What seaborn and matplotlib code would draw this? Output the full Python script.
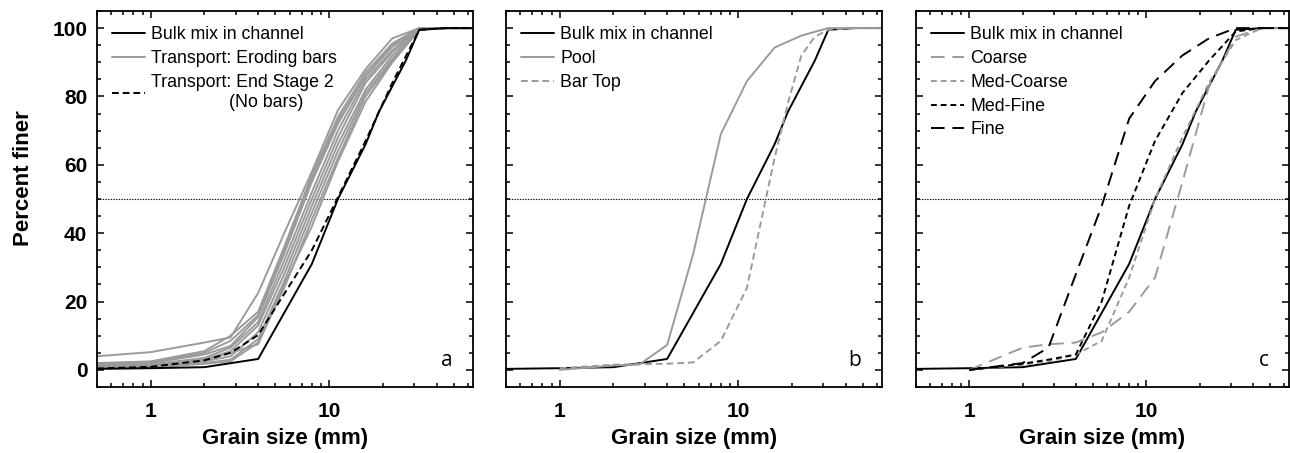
import matplotlib
matplotlib.use("Agg")
import matplotlib.pyplot as plt
from matplotlib.ticker import FixedLocator, LogLocator, NullFormatter, MultipleLocator, FixedFormatter
import seaborn as sns
import pandas as pd

# ---------------- data ----------------
sizes = [0.5, 1, 2, 2.8, 4, 5.6, 8, 11.2, 16, 22.6, 32, 45, 64]

bulk_x = [0.5, 1, 2, 4, 8, 11.2, 16, 19, 22.6, 26.9, 32, 45, 64]
bulk_y = [0.3, 0.5, 0.8, 3.2, 31, 50, 66, 75.5, 83, 90.5, 99.5, 100, 100]

# panel a: transport while eroding bars (10 samples)
eroding = [
    [4.0, 5.2, 8.0, 9.5, 22.5, 40, 58, 76, 88, 97, 100, 100, 100],
    [2.0, 2.5, 5.5, 10.0, 17, 36, 57, 74, 87, 95.5, 100, 100, 100],
    [1.5, 2.0, 4.5, 7.0, 15.5, 34, 55, 72, 86, 94.5, 100, 100, 100],
    [1.2, 1.6, 3.5, 6.5, 14, 32, 52, 70, 85, 93.5, 100, 100, 100],
    [1.0, 1.3, 3.0, 5.5, 13, 30, 50, 68, 84, 93, 100, 100, 100],
    [0.8, 1.0, 2.5, 4.0, 11, 28, 48, 66, 82, 92, 99.8, 100, 100],
    [0.6, 0.8, 2.0, 3.0, 9, 26, 46, 64, 81, 91, 99.8, 100, 100],
    [0.5, 0.7, 1.8, 2.5, 8, 24, 44, 62, 80, 90.5, 99.5, 100, 100],
    [1.8, 2.2, 5.0, 8.5, 16, 35, 56, 73, 86, 95, 100, 100, 100],
    [0.8, 1.2, 3.0, 5.0, 7.5, 25, 42, 61, 78.5, 90, 99.5, 100, 100],
]
end2_x = [0.5, 1, 2, 2.8, 4, 8, 11.2, 16, 22.6, 32, 45, 64]
end2_y = [0.4, 0.9, 2.8, 5.0, 10.2, 35, 50.5, 67, 84, 99.5, 100, 100]

# panel b
pool_x = [1, 2, 2.8, 4, 5.6, 8, 11.2, 16, 22.6, 32, 45, 64]
pool_y = [0.0, 1.3, 1.6, 7.3, 34, 69, 84.5, 94.3, 97.8, 100, 100, 100]
bartop_x = [1, 2, 2.8, 4, 5.6, 8, 11.2, 13.5, 16, 19, 22.6, 26.9, 32, 45, 64]
bartop_y = [0.5, 1.5, 1.7, 1.8, 2.2, 8.5, 24, 44, 62, 78, 92, 97.5, 99.5, 100, 100]

# panel c
c_x = [1, 2, 2.8, 4, 5.6, 8, 11.2, 16, 22.6, 32, 45, 64]
coarse_y = [0.0, 6.5, 7.5, 8.0, 11, 17, 27, 55, 83, 97.5, 100, 100]
medcoarse_y = [0.0, 1.5, 2.5, 4.5, 8.5, 27, 50, 68, 84, 96.5, 100, 100]
medfine_y = [0.0, 1.8, 3.0, 4.5, 20, 48, 67, 81, 90.5, 99, 100, 100]
fine_y = [0.0, 2.0, 6.5, 28, 48, 73.5, 84.5, 92, 97, 100, 100, 100]

yticks = [0, 20, 40, 60, 80, 100]
xticks = [1, 10]
xtick_labels = ["1", "10"]
panel_letters = ["a", "b", "c"]

# ---------------- style ----------------
sns.set_theme(style="ticks")
plt.rcParams["font.family"] = ["Liberation Sans", "DejaVu Sans"]
for k in ["text.color", "axes.labelcolor", "xtick.color", "ytick.color", "axes.edgecolor"]:
    plt.rcParams[k] = "black"

GRAY = "#9b9b9b"
W, H = 1290, 453
fig = plt.figure(figsize=(W / 100, H / 100), dpi=100)

def frac_axes(left, right, top, bottom):
    return [left / W, 1 - bottom / H, (right - left) / W, (bottom - top) / H]

axes = [
    fig.add_axes(frac_axes(97, 473, 11, 387)),
    fig.add_axes(frac_axes(506, 882, 11, 387)),
    fig.add_axes(frac_axes(916, 1289, 11, 387)),
]

def line(ax, x, y, color, ls="-", lw=1.4, label="_nolegend_"):
    df = pd.DataFrame({"x": x, "y": y})
    sns.lineplot(data=df, x="x", y="y", ax=ax, color=color, linestyle=ls,
                 linewidth=lw, label=label, sort=False, estimator=None)
    return ax.lines[-1]

LEG = dict(loc="upper left", bbox_to_anchor=(0.0, 1.0), frameon=False,
           fontsize=12.8, handlelength=1.85, handletextpad=0.33, labelspacing=0.38,
           borderpad=0.45, borderaxespad=0.42, labelcolor="black")

# panel a
ax = axes[0]
gray_handles = []
for e in eroding:
    gray_handles.append(line(ax, sizes, e, GRAY, "-", 1.4))
h_end = line(ax, end2_x, end2_y, "black", (0, (3.5, 2)), 1.4)
h_bulk = line(ax, bulk_x, bulk_y, "black", "-", 1.4)
ax.legend([h_bulk, gray_handles[0], h_end],
          ["Bulk mix in channel", "Transport: Eroding bars",
           "Transport: End Stage 2\n                (No bars)"], **LEG)

# panel b
ax = axes[1]
hb = line(ax, bulk_x, bulk_y, "black", "-", 1.4)
hp = line(ax, pool_x, pool_y, GRAY, "-", 1.4)
ht = line(ax, bartop_x, bartop_y, GRAY, (0, (3.5, 2)), 1.4)
ax.legend([hb, hp, ht], ["Bulk mix in channel", "Pool", "Bar Top"], **LEG)

# panel c
ax = axes[2]
hb = line(ax, bulk_x, bulk_y, "black", "-", 1.4)
hc = line(ax, c_x, coarse_y, GRAY, (0, (7, 4)), 1.4)
hmc = line(ax, c_x, medcoarse_y, GRAY, (0, (3, 2)), 1.4)
hmf = line(ax, c_x, medfine_y, "black", (0, (3, 2)), 1.4)
hf = line(ax, c_x, fine_y, "black", (0, (7, 4)), 1.4)
ax.legend([hb, hc, hmc, hmf, hf],
          ["Bulk mix in channel", "Coarse", "Med-Coarse", "Med-Fine", "Fine"], **LEG)

for i, ax in enumerate(axes):
    ax.axhline(50, color="black", linestyle=(0, (1.2, 1.2)), linewidth=0.8, zorder=0)
    ax.set_xscale("log")
    ax.set_xlim(0.5, 64)
    ax.set_ylim(-5, 105)
    ax.xaxis.set_major_locator(FixedLocator(xticks))
    ax.xaxis.set_major_formatter(FixedFormatter(xtick_labels))
    ax.xaxis.set_minor_locator(LogLocator(base=10, subs=range(2, 10)))
    ax.xaxis.set_minor_formatter(NullFormatter())
    ax.yaxis.set_major_locator(FixedLocator(yticks))
    ax.yaxis.set_minor_locator(MultipleLocator(5))
    ax.tick_params(which="both", direction="in", top=True, right=True, color="black",
                   labelcolor="black", width=1.1)
    ax.tick_params(which="major", length=5, labelsize=15)
    ax.tick_params(which="minor", length=3)
    ax.tick_params(axis="x", which="major", pad=11)
    ax.tick_params(axis="y", which="major", pad=7)
    for lab in ax.get_xticklabels() + ax.get_yticklabels():
        lab.set_fontweight("bold")
    for s in ax.spines.values():
        s.set_linewidth(1.3)
        s.set_color("black")
        s.set_visible(True)
    ax.set_xlabel("Grain size (mm)", fontsize=16, fontweight="bold", labelpad=5, color="black")
    if i == 0:
        ax.set_ylabel("Percent finer", fontsize=16, fontweight="bold", color="black")
        ax.yaxis.set_label_coords(-0.167, 0.556)
    else:
        ax.set_ylabel("")
        ax.set_yticklabels([])
    ax.text(0.945, 0.07, panel_letters[i], transform=ax.transAxes, ha="right", va="center",
            fontsize=15, color="black", family=["Open Sans", "DejaVu Sans"])

fig.savefig("out.png", dpi=100)
